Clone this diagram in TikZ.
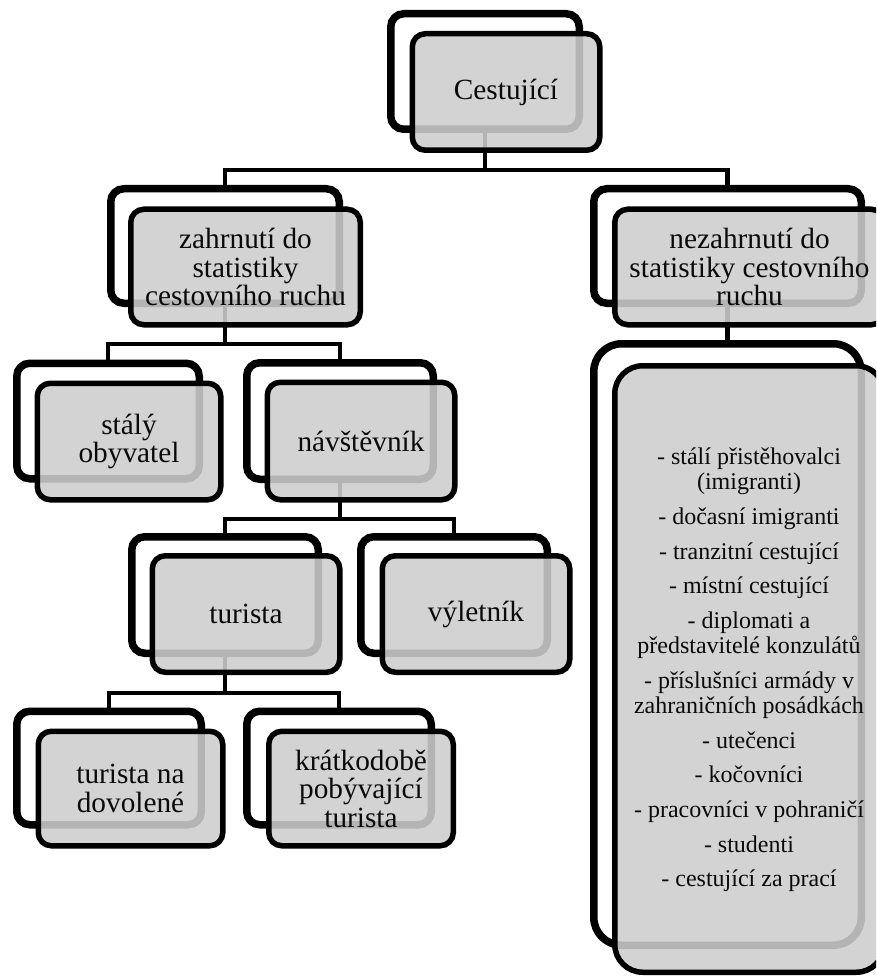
\documentclass[tikz,border=0pt]{standalone}
\usepackage{fontspec}
\setmainfont{Liberation Serif}
\usetikzlibrary{shadows}
\pgfdeclarelayer{bg}
\pgfsetlayers{bg,main}
\definecolor{boxgray}{RGB}{205,205,205}
\definecolor{txtcol}{RGB}{10,10,10}
\tikzset{
  softshadow/.style={drop shadow={shadow xshift=-2pt, shadow yshift=-3pt, opacity=0.12, fill=black}},
  backbox/.style={draw=black, line width=7.5pt, fill=white, rounded corners=13pt, inner sep=0pt, softshadow},
  frontbox/.style={draw=black, line width=5.5pt, fill=boxgray, fill opacity=0.88, draw opacity=1, text opacity=1,
    rounded corners=13pt, inner sep=0pt, align=center, text=txtcol, font=\fontsize{29.3}{28.5}\selectfont},
  bb/.style 2 args={backbox, minimum width=#1pt-7.5pt, minimum height=#2pt-7.5pt},
  fb/.style 2 args={frontbox, minimum width=#1pt-5.5pt, minimum height=#2pt-5.5pt},
  conn/.style={line width=4.5pt, draw=black},
}
\begin{document}
\begin{tikzpicture}[x=1pt,y=-1pt]
\useasboundingbox (0,0) rectangle (876,976);
\clip (0,0) rectangle (876,976);
% level 0
\node[bb={196}{123}] (c0b) at (485,71.5) {};
\node[fb={193}{122}] (c0) at (506,92) {Cestující};
% level 1
\node[bb={236}{122}] (zb) at (225,246) {};
\node[fb={235}{121}] (z) at (245.5,267) {zahrnutí do\\statistiky\\cestovního ruchu};
\node[bb={275}{122}] (nb) at (727.5,246) {};
\node[fb={275}{121}] (n) at (749.5,267) {nezahrnutí do\\statistiky cestovního\\ruchu};
% level 2
\node[bb={190}{123}] (sb) at (108,421) {};
\node[fb={189}{122}] (s) at (129,441.5) {stálý\\obyvatel};
\node[bb={194}{124}] (vb) at (340,421) {};
\node[fb={193}{123}] (v) at (361,441) {návštěvník};
% level 3
\node[bb={194}{124}] (tb) at (225,595) {};
\node[fb={193}{122}] (t) at (246,614) {turista};
\node[bb={194}{124}] (yb) at (454,595) {};
\node[fb={193}{122}] (y) at (476,614) {výletník};
% level 4
\node[bb={192}{121}] (db) at (109,768) {};
\node[fb={190}{120}] (d) at (130.5,788.5) {turista na\\dovolené};
\node[bb={192}{121}] (kb) at (339,768) {};
\node[fb={190}{120}] (k) at (361,788.5) {krátkodobě\\pobývající\\turista};
% big list
\node[bb={275}{609}, rounded corners=28pt] (lb) at (727.5,644.5) {};
\node[fb={275}{612}, rounded corners=28pt] (l) at (749.5,669) {};
\node[align=center, text=txtcol, font=\fontsize{24}{25}\selectfont, inner sep=0pt] (lt) at (749,670)
 {- stálí přistěhovalci\\(imigranti)\\[9.7pt]- dočasní imigranti\\[9.7pt]- tranzitní cestující\\[9.7pt]- místní cestující\\[9.7pt]- diplomati a\\představitelé konzulátů\\[9.7pt]- příslušníci armády v\\zahraničních posádkách\\[9.7pt]- utečenci\\[9.7pt]- kočovníci\\[9.7pt]- pracovníci v pohraničí\\[9.7pt]- studenti\\[9.7pt]- cestující za prací};
% connectors
\coordinate (j0) at (485,170);
\coordinate (j1) at (225,344);
\coordinate (j2) at (340,519);
\coordinate (j3) at (225,693);
\begin{pgfonlayer}{bg}
\draw[conn] (c0b.south) -- (j0);
\draw[conn] (zb.north) |- (j0) -| (nb.north);
\draw[conn] (zb.south) -- (j1);
\draw[conn] (sb.north) |- (j1) -| (vb.north);
\draw[conn] (vb.south) -- (j2);
\draw[conn] (tb.north) |- (j2) -| (yb.north);
\draw[conn] (tb.south) -- (j3);
\draw[conn] (db.north) |- (j3) -| (kb.north);
\draw[conn] (nb.south) -- (lb.north);
\end{pgfonlayer}
\end{tikzpicture}
\end{document}
